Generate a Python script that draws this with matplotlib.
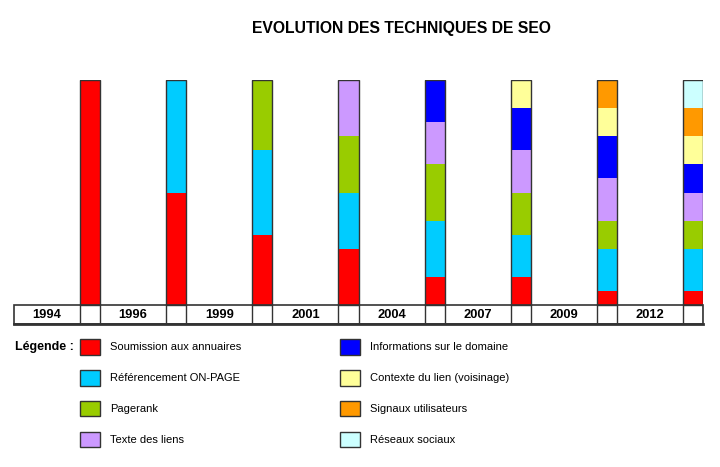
import matplotlib.pyplot as plt
import numpy as np
from matplotlib.patches import Rectangle, Patch

# === Data ===
years = ['1994', '1996', '1999', '2001', '2004', '2007', '2009', '2012']
series_names = ['Soumission aux annuaires', 'Référencement ON-PAGE', 'Pagerank', 'Texte des liens',
                'Informations sur le domaine', 'Contexte du lien (voisinage)', 'Signaux utilisateurs',
                'Réseaux sociaux']
colors = ['#FF0000', '#00CCFF', '#99CC00', '#CC99FF', '#0000FF', '#FFFF99', '#FF9900', '#CCFFFF']

soumission = [100, 50, 31.25, 25, 12.5, 12.5, 6.25, 6.25]
on_page = [0, 50, 37.5, 25, 25, 18.75, 18.75, 18.75]
pagerank = [0, 0, 31.25, 25, 25, 18.75, 12.5, 12.5]
texte_liens = [0, 0, 0, 25, 18.75, 18.75, 18.75, 12.5]
infos_domaine = [0, 0, 0, 0, 18.75, 18.75, 18.75, 12.5]
contexte_lien = [0, 0, 0, 0, 0, 12.5, 12.5, 12.5]
signaux = [0, 0, 0, 0, 0, 0, 12.5, 12.5]
reseaux = [0, 0, 0, 0, 0, 0, 0, 12.5]

values = [soumission, on_page, pagerank, texte_liens, infos_domaine, contexte_lien, signaux, reseaux]

# === Plot ===
W, H = 720, 467
fig = plt.figure(figsize=(W / 100, H / 100), dpi=100)
ax = fig.add_axes([14 / W, (H - 324) / H, (703 - 14) / W, (324 - 80) / H])

x = np.arange(len(years))
bw = 0.233
bottom = np.zeros(len(years))
for vals, col in zip(values, colors):
    vals = np.array(vals, dtype=float)
    ax.bar(x, vals, bw, bottom=bottom, color=col, linewidth=0)
    bottom += vals
# contour des barres
ax.bar(x, bottom, bw, fill=False, edgecolor='#333333', linewidth=1)

# ligne des annees
row_h = 8.44
ax.add_patch(Rectangle((-1 + bw / 2, -row_h), len(years), row_h, fill=False,
                       edgecolor='#333333', linewidth=1.2, clip_on=False))
ax.plot([-1 + bw / 2, len(years) - 1 + bw / 2], [-row_h, -row_h], color='#333333', lw=2,
        clip_on=False)
for i, y in enumerate(years):
    ax.plot([i - bw / 2, i - bw / 2], [-row_h, 0], color='#333333', lw=1)
    ax.plot([i + bw / 2, i + bw / 2], [-row_h, 0], color='#333333', lw=1)
    ax.text(i - 0.5, -row_h / 2, y, ha='center', va='center', fontsize=9.3, fontweight='bold',
            family=['Liberation Sans Narrow', 'Liberation Sans'])

ax.set_xlim(-1 + bw / 2, len(years) - 1 + bw / 2)
ax.set_ylim(-row_h, 100)
ax.axis('off')

fig.text(401 / W, 1 - 28 / H, 'EVOLUTION DES TECHNIQUES DE SEO', ha='center', va='center',
         fontsize=11.3, fontweight='bold', family='Liberation Sans')

handles = [Patch(facecolor=c, edgecolor='#333333', linewidth=1) for c in colors]
fig.legend(handles, series_names, loc='upper left', bbox_to_anchor=(80 / W, 1 - 339 / H),
           ncol=2, frameon=False, prop={'family': 'Liberation Sans', 'size': 8},
           handlelength=1.8, handleheight=1.8, handletextpad=0.9, labelspacing=1.36,
           columnspacing=8.85, borderpad=0, borderaxespad=0)
fig.text(15 / W, 1 - 347 / H, 'Légende :', ha='left', va='center', fontsize=9,
         fontweight='bold', family='Liberation Sans')

fig.savefig('out.png', dpi=100)
